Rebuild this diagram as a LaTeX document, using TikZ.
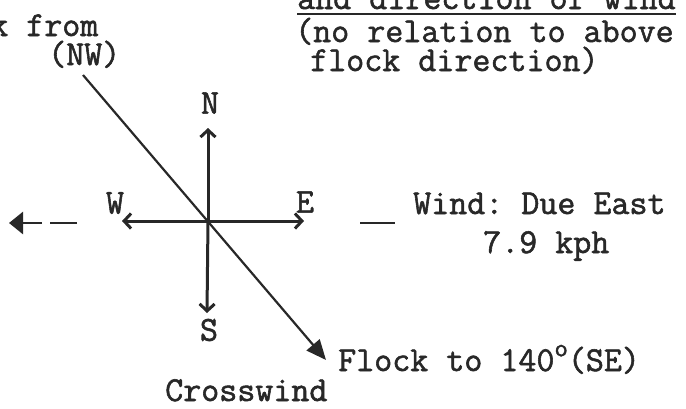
\documentclass[tikz,border=0pt]{standalone}
\usepackage{fontspec}
\setmonofont{Latin Modern Mono}[FakeBold=1.6]
\usepackage{tikz}
\usetikzlibrary{arrows.meta, positioning}
\definecolor{inkgray}{RGB}{40, 40, 40}

\begin{document}
\begin{tikzpicture}[
    x=1pt, y=-1pt,
    txt/.style={inkgray, inner sep=0pt, anchor=base west,
                font=\ttfamily\fontsize{35}{35}\selectfont},
    pt/.style={inkgray, inner sep=0pt,
               font=\ttfamily\fontsize{35}{35}\selectfont},
    cmp/.style={-{Straight Barb[length=7pt, width=15pt, line width=3pt]},
                line width=3pt, inkgray},
    flk/.style={-{Triangle[length=20pt, width=17pt]}, line width=2.2pt, inkgray},
    wnd/.style={-{Triangle[length=14pt, width=22pt]}, line width=2.6pt, inkgray},
  ]
    \useasboundingbox (0,0) rectangle (686,408);

    % compass
    \coordinate (c) at (208,221);
    \node[pt] (N) at (210,103) {N};
    \node[pt] (S) at (209,330) {S};
    \node[pt] (W) at (115,203) {W};
    \node[pt] (E) at (305,202) {E};
    \coordinate (ntip) at (208,128);
    \coordinate (stip) at (207,313);
    \coordinate (wtip) at (122,221);
    \coordinate (etip) at (304,221);
    \draw[cmp] (c) -- (ntip);
    \draw[cmp] (c) -- (stip);
    \draw[cmp] (c) -- (wtip);
    \draw[cmp] (c) -- (etip);

    % flock path
    \node[txt] (from) at (-10,36) {k from};
    \node[txt] (nw) at (48,65) {(NW)};
    \coordinate (nwend) at (83,75);
    \coordinate (setip) at (326,360);
    \draw[flk] (nwend) -- (setip);
    \node[txt] (to) at (338,371)
      {Flock to 140\raisebox{0.42em}{\fontsize{26}{26}\selectfont o}(SE)};
    \node[txt] (cross) at (165,401) {Crosswind};

    % wind note
    \node[txt] (head) at (297,9) {and direction of wind};
    \draw[line width=2pt, inkgray] ([yshift=-5pt]head.base west)
      -- ([yshift=-5pt]head.base east);
    \node[txt] (rel) at (295,42) {(no relation to above};
    \node[txt] (dir) at (310,71) {flock direction)};
    \node[txt] (wind) at (413,214) {Wind: Due East};
    \node[txt] (kph) at (483,253) {7.9 kph};
    \coordinate (u1) at (360,223);
    \coordinate (u2) at (395,223);
    \draw[line width=2.4pt, inkgray] (u1) -- (u2);

    % wind arrow
    \coordinate (d1) at (77,223);
    \coordinate (d2) at (50,223);
    \coordinate (lshaft) at (42,223);
    \coordinate (ltip) at (9,223);
    \draw[line width=2.6pt, inkgray] (d1) -- (d2);
    \draw[wnd] (lshaft) -- (ltip);
  \end{tikzpicture}
\end{document}
